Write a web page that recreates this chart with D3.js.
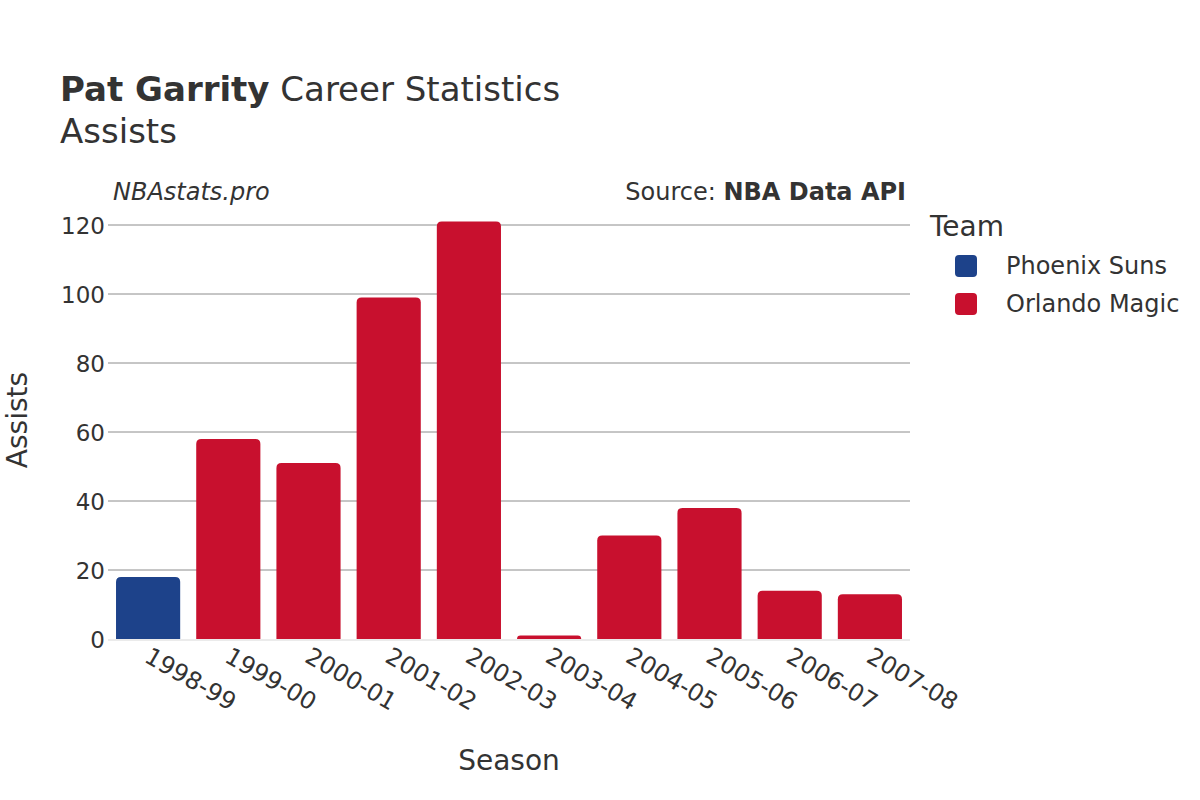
<!DOCTYPE html>
<html><head><meta charset="utf-8">
<script src="https://cdn.jsdelivr.net/npm/d3@7"></script>
<style>body{margin:0;background:#fff;font-family:"DejaVu Sans",sans-serif;}</style>
</head><body>
<svg id="c" width="1200" height="800"></svg>
<script>
const seasons = ["1998-99","1999-00","2000-01","2001-02","2002-03","2003-04","2004-05","2005-06","2006-07","2007-08"];
const teams = ["Phoenix Suns","Orlando Magic","Orlando Magic","Orlando Magic","Orlando Magic","Orlando Magic","Orlando Magic","Orlando Magic","Orlando Magic","Orlando Magic"];
const assists = [18,58,51,99,121,1,30,38,14,13];
const legendTeams = ["Phoenix Suns","Orlando Magic"];
const teamColors = ["#1d428a","#c8102e"];
const yTicks = [0,20,40,60,80,100,120];

(function(){
const svg = d3.select("#c");
const txt = "#333";
const pL = 108, pR = 910, pT = 225, pB = 639;
const x = d3.scaleBand().domain(seasons).range([pL,pR]).paddingInner(0.2).paddingOuter(0.1);
const y = d3.scaleLinear().domain([0,120]).range([pB,pT]);
const color = d3.scaleOrdinal().domain(legendTeams).range(teamColors);

// grid
svg.append("g").selectAll("line").data(yTicks.filter(d=>d>0)).join("line")
  .attr("x1",pL).attr("x2",pR).attr("y1",d=>y(d)).attr("y2",d=>y(d))
  .attr("stroke","#8c8c8c").attr("stroke-width",1);

// bars with rounded top corners
const r = 5;
svg.append("g").selectAll("path").data(seasons).join("path")
  .attr("d",(s,i)=>{
    const x0 = x(s), w = x.bandwidth(), y0 = y(assists[i]), h = pB - y0;
    const rr = Math.min(r, h, w/2);
    return `M${x0},${pB}V${y0+rr}Q${x0},${y0} ${x0+rr},${y0}H${x0+w-rr}Q${x0+w},${y0} ${x0+w},${y0+rr}V${pB}Z`;
  })
  .attr("fill",(s,i)=>color(teams[i]));

// zero line
svg.append("line").attr("x1",pL).attr("x2",pR).attr("y1",y(0)+1).attr("y2",y(0)+1)
  .attr("stroke","#ebebeb").attr("stroke-width",2);

// y axis labels
const yAxis = svg.append("g").attr("transform",`translate(${pL},0)`)
  .call(d3.axisLeft(y).tickValues(yTicks).tickSize(0).tickPadding(3));
yAxis.select(".domain").remove();
yAxis.selectAll("text").attr("font-size",23).attr("fill",txt).attr("font-family","DejaVu Sans").attr("dy","0.35em");

// x axis labels
const xAxis = svg.append("g").attr("transform",`translate(0,${pB})`)
  .call(d3.axisBottom(x).tickSize(0).tickPadding(0));
xAxis.select(".domain").remove();
xAxis.selectAll("text").attr("font-size",24).attr("fill",txt).attr("font-family","DejaVu Sans")
  .attr("text-anchor","start").attr("dy",0).attr("y",0)
  .attr("transform","translate(-5,22) rotate(30)");

// titles
const t = svg.append("text").attr("x",60).attr("y",101).attr("font-size",34).attr("fill",txt);
t.append("tspan").attr("font-weight","bold").text("Pat Garrity");
t.append("tspan").text(" Career Statistics");
svg.append("text").attr("x",60).attr("y",143).attr("font-size",34).attr("fill",txt).text("Assists");

svg.append("text").attr("x",113).attr("y",200).attr("font-size",24).attr("font-style","italic").attr("fill",txt).text("NBAstats.pro");
const s = svg.append("text").attr("x",906).attr("y",200).attr("font-size",24).attr("text-anchor","end").attr("fill",txt);
s.append("tspan").text("Source: ");
s.append("tspan").attr("font-weight","bold").text("NBA Data API");

svg.append("text").attr("transform",`translate(27,420) rotate(-90)`).attr("text-anchor","middle")
  .attr("font-size",28).attr("fill",txt).text("Assists");
svg.append("text").attr("x",(pL+pR)/2).attr("y",770).attr("text-anchor","middle")
  .attr("font-size",28).attr("fill",txt).text("Season");

// legend
svg.append("text").attr("x",930).attr("y",236).attr("font-size",28).attr("fill",txt).text("Team");
const lg = svg.append("g").selectAll("g").data(legendTeams).join("g")
  .attr("transform",(d,i)=>`translate(955,${255+i*38})`);
lg.append("rect").attr("width",22).attr("height",22).attr("rx",4).attr("fill",d=>color(d));
lg.append("text").attr("x",51).attr("y",11).attr("dy","0.35em").attr("font-size",24).attr("fill",txt).text(d=>d);
})();
</script>
</body></html>
